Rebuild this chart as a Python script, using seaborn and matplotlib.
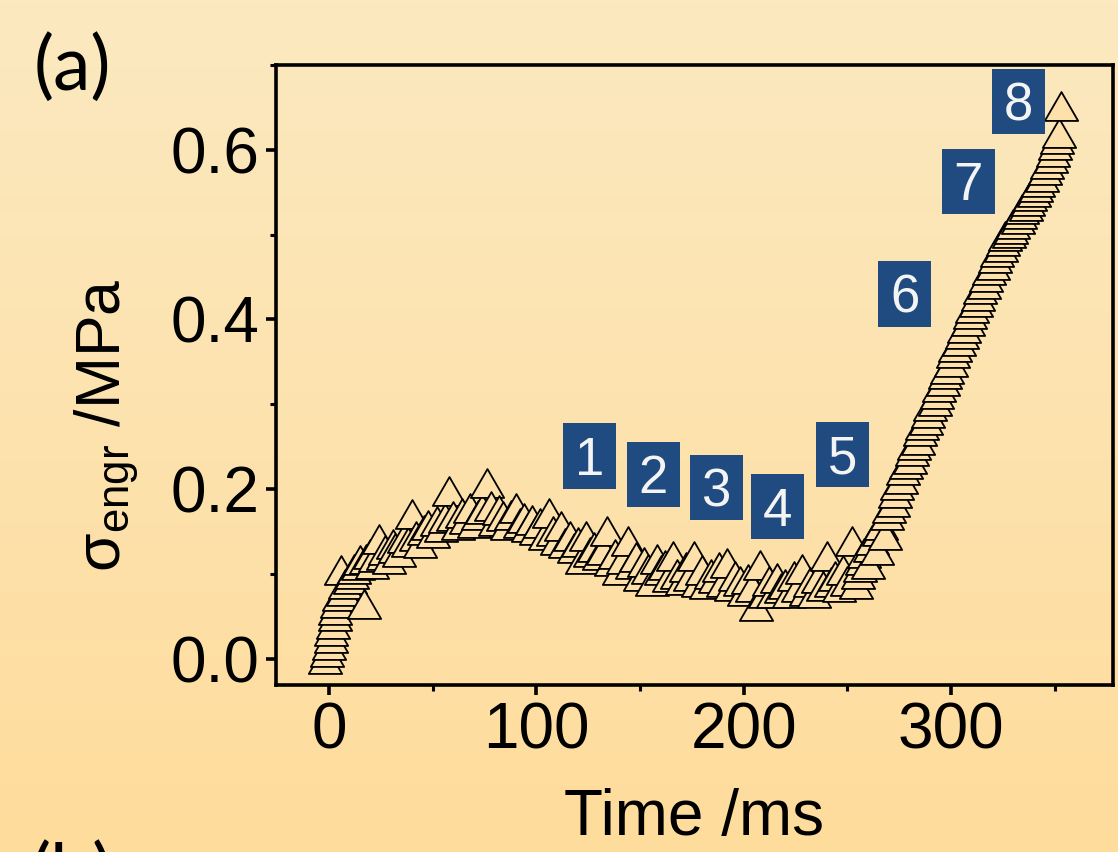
import numpy as np
import matplotlib
matplotlib.use("Agg")
import matplotlib.pyplot as plt
from matplotlib.patches import Rectangle
from matplotlib.path import Path
from matplotlib.markers import MarkerStyle
from matplotlib.ticker import MultipleLocator, FormatStrFormatter
import seaborn as sns
import pandas as pd

# ---------------- data ----------------
time_ms = [
    -2, -1, 0, 1, 1, 2, 3, 3, 4, 5, 6, 7, 8, 10, 11, 12, 14, 15, 17, 18, 20,
    21, 22, 24, 26, 27, 29, 31, 32, 34, 36, 38, 40, 42, 44, 46, 48, 50, 52, 54,
    56, 58, 60, 62, 64, 66, 68, 70, 72, 74, 76,
    78, 80, 82, 84, 86, 88, 90, 92, 94, 96, 98, 100, 102, 104, 106, 108, 110,
    112, 114, 116, 118, 120, 122, 124, 126, 128, 130, 132, 134, 136, 138, 140,
    142, 144, 146, 148, 150, 152, 154, 156, 158, 160, 162, 164, 166, 168, 170,
    172, 174, 176, 178, 180, 182, 184, 186, 188, 190, 192, 194, 196, 198, 200,
    202, 204, 206, 208, 210, 212, 214, 216, 218, 220, 222, 224, 226, 228, 230,
    232, 234, 236, 238, 240, 242, 244, 246, 248, 250, 252,
    254, 255, 256, 257, 258, 260, 261, 262, 264, 265, 266, 268, 269, 270, 272,
    273, 274, 276, 277, 278, 280, 281, 282, 284, 285, 286, 288, 289, 290, 292,
    293, 294, 296, 297, 298, 300, 301, 302, 304, 305, 306, 308, 309, 310, 312,
    313, 314, 316, 317, 318, 320, 321, 322, 324, 325, 326, 328, 329, 330, 332,
    333, 334, 336, 337, 338, 340, 341, 342, 344, 345, 346, 348, 349, 350, 351,
    352, 353,
]
stress_mpa = [
    0.000, 0.008, 0.016, 0.025, 0.033, 0.041, 0.050, 0.058, 0.066, 0.074, 0.104,
    0.080, 0.088, 0.094, 0.100, 0.106, 0.110, 0.116, 0.065, 0.118, 0.124,
    0.112, 0.120, 0.141, 0.122, 0.128, 0.118, 0.135, 0.130, 0.126, 0.142, 0.138,
    0.171, 0.145, 0.136, 0.152, 0.158, 0.148, 0.162, 0.155, 0.166, 0.198, 0.168,
    0.158, 0.172, 0.165, 0.178, 0.160, 0.170, 0.176, 0.207,
    0.180, 0.162, 0.175, 0.168, 0.158, 0.170, 0.178, 0.160, 0.166, 0.155, 0.163,
    0.152, 0.160, 0.146, 0.172, 0.150, 0.140, 0.157, 0.136, 0.145, 0.130, 0.138,
    0.118, 0.145, 0.126, 0.132, 0.122, 0.128, 0.151, 0.115, 0.124, 0.104, 0.118,
    0.139, 0.112, 0.120, 0.098, 0.114, 0.106, 0.092, 0.118, 0.104, 0.110, 0.096,
    0.121, 0.100, 0.093, 0.108, 0.098, 0.121, 0.090, 0.104, 0.088, 0.100, 0.095,
    0.108, 0.090, 0.113, 0.086, 0.098, 0.092, 0.080, 0.094, 0.085, 0.062, 0.110,
    0.078, 0.092, 0.077, 0.095, 0.083, 0.088, 0.078, 0.098, 0.085, 0.106, 0.080,
    0.090, 0.077, 0.095, 0.086, 0.121, 0.090, 0.098, 0.085, 0.104, 0.092, 0.139,
    0.088, 0.100, 0.108, 0.116, 0.125, 0.112, 0.132, 0.140, 0.128, 0.150, 0.158,
    0.146, 0.170, 0.178, 0.185,
    0.195, 0.205, 0.212, 0.222, 0.230, 0.236, 0.245, 0.252, 0.258, 0.268, 0.275,
    0.281, 0.290, 0.298, 0.304,
    0.312, 0.320, 0.328, 0.336, 0.342, 0.350, 0.360, 0.368, 0.375, 0.383, 0.390,
    0.398, 0.406, 0.414, 0.420,
    0.428, 0.436, 0.442, 0.450, 0.458, 0.464, 0.472, 0.480, 0.486, 0.492, 0.498,
    0.502, 0.507, 0.512, 0.518,
    0.524, 0.530, 0.534, 0.540, 0.545, 0.550, 0.556, 0.562, 0.568, 0.576, 0.583,
    0.590, 0.598, 0.606, 0.613,
    0.620, 0.652,
]

# numbered frame markers
frame_labels = ["1", "2", "3", "4", "5", "6", "7", "8"]
frame_time = [125.8, 156.4, 186.7, 216.4, 247.5, 277.6, 308.2, 332.5]
frame_stress = [0.239, 0.217, 0.202, 0.179, 0.241, 0.430, 0.563, 0.657]

x_ticks = [0, 100, 200, 300]
y_ticks = [0.0, 0.2, 0.4, 0.6]

df = pd.DataFrame({"time": time_ms, "stress": stress_mpa})

# ---------------- styling ----------------
sns.set_theme(style="ticks")
plt.rcParams["font.family"] = ["Liberation Sans", "DejaVu Sans"]
plt.rcParams["mathtext.fontset"] = "custom"
plt.rcParams["mathtext.rm"] = "Liberation Sans"
plt.rcParams["mathtext.it"] = "Liberation Sans:italic"
for k in ["text.color", "axes.labelcolor", "xtick.color", "ytick.color",
          "axes.edgecolor"]:
    plt.rcParams[k] = "black"

W, H, DPI = 1118, 852, 100
fig = plt.figure(figsize=(W / DPI, H / DPI), dpi=DPI)

# background gradient (figure-wide)
bg_ax = fig.add_axes([0, 0, 1, 1], zorder=-10)
top_c = np.array([251, 233, 192]) / 255.0
bot_c = np.array([255, 220, 156]) / 255.0
yy = np.linspace(0, 1, 256)[:, None, None]
grad = top_c * (1 - yy) + bot_c * yy
grad = np.repeat(grad, 2, axis=1)
bg_ax.imshow(grad, aspect="auto", extent=[0, 1, 0, 1], origin="upper")
bg_ax.set_axis_off()

ax = fig.add_axes([276 / W, 1 - 685 / H, (1113 - 276) / W, (685 - 65) / H])
ax.set_facecolor("none")

tri_path = Path([(-1.0, -0.866), (1.0, -0.866), (0.0, 0.866), (-1.0, -0.866)],
                [Path.MOVETO, Path.LINETO, Path.LINETO, Path.CLOSEPOLY])
tri = MarkerStyle(tri_path)
sns.scatterplot(data=df, x="time", y="stress", ax=ax, marker=tri, s=24 ** 2,
                color="#FDE0AA", edgecolor="black", linewidth=1.3, zorder=3,
                legend=False)

ax.set_xlim(-25.5, 378)
ax.set_ylim(-0.031, 0.700)
ax.set_xticks(x_ticks)
ax.set_yticks(y_ticks)
ax.xaxis.set_minor_locator(MultipleLocator(50))
ax.yaxis.set_minor_locator(MultipleLocator(0.1))
ax.yaxis.set_major_formatter(FormatStrFormatter("%.1f"))

for sp in ax.spines.values():
    sp.set_visible(True)
    sp.set_linewidth(2.6)
    sp.set_color("black")

ax.tick_params(which="major", direction="out", length=7, width=2.6,
               labelsize=46, pad=5, colors="black", top=False, right=False)
ax.tick_params(axis="x", which="major", pad=5)
ax.tick_params(which="minor", direction="out", length=4, width=2.2,
               top=False, right=False)

ax.set_xlabel("Time /ms", fontsize=46, labelpad=19)
ax.set_ylabel(r"$\mathregular{\sigma_{engr}}$ /MPa", fontsize=45, va="center")
ax.yaxis.set_label_coords(-0.202, 0.419)

# numbered boxes
bw = 53 / 2.075
bh = 65 / 848
for lab, tx, sy in zip(frame_labels, frame_time, frame_stress):
    ax.add_patch(Rectangle((tx - bw / 2, sy - bh / 2), bw, bh,
                           facecolor="#1F4B80", edgecolor="none", zorder=5))
    ax.annotate(lab, xy=(tx, sy), xytext=(0, -13.5), textcoords="offset points",
                ha="center", va="baseline", fontsize=38, color="#F4F4F4",
                zorder=6)

# panel letters
fig.text(72 / W, 1 - 68 / H, "(a)", fontsize=54, ha="center", va="center",
         family=["Lato", "DejaVu Sans"])
fig.text(72 / W, 1 - 876 / H, "(b)", fontsize=54, ha="center", va="center",
         family=["Lato", "DejaVu Sans"])

fig.savefig("out.png", dpi=DPI)
